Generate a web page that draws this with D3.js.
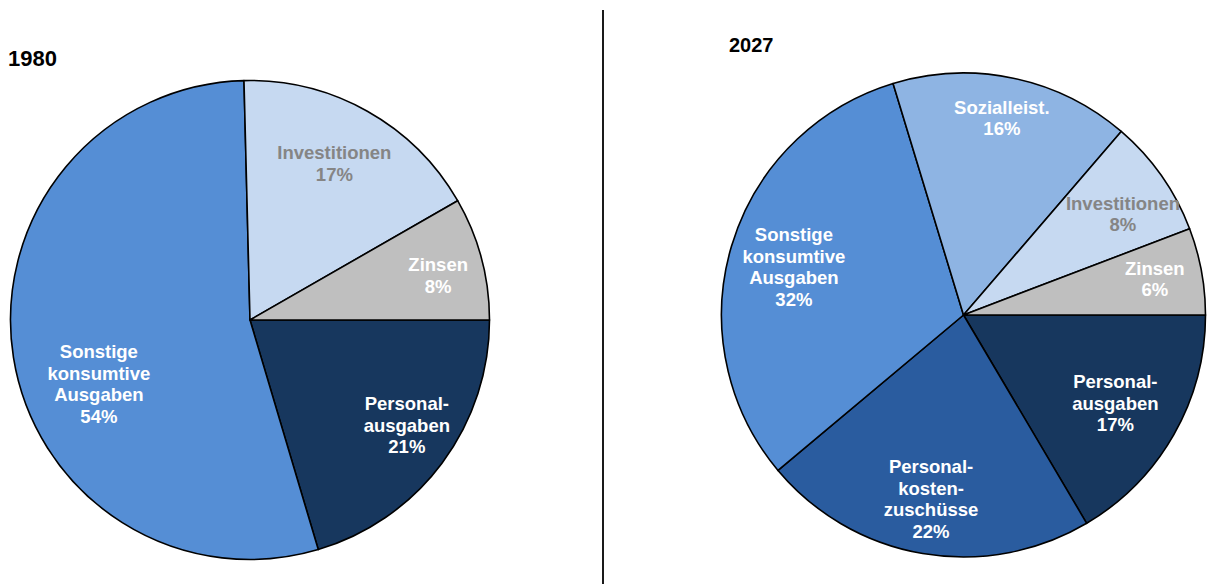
<!DOCTYPE html>
<html>
<head>
<meta charset="utf-8">
<script src="https://cdn.jsdelivr.net/npm/d3@7"></script>
<style>
  html, body { margin: 0; padding: 0; background: #fff; }
  svg { display: block; }
  text { font-family: "Liberation Sans", Arial, sans-serif; font-weight: bold; }
</style>
</head>
<body>
<svg id="chart" width="1207" height="584"></svg>
<script>
// ---- Data: 1980 ----
const cats1980 = ["Personalausgaben", "Sonstige konsumtive Ausgaben", "Investitionen", "Zinsen"];
const vals1980 = [20.4, 54.2, 17.1, 8.3];
const lines1980 = [["Personal-", "ausgaben"], ["Sonstige", "konsumtive", "Ausgaben"], ["Investitionen"], ["Zinsen"]];
const pct1980 = ["21%", "54%", "17%", "8%"];

// ---- Data: 2027 ----
const cats2027 = ["Personalausgaben", "Personalkostenzuschüsse", "Sonstige konsumtive Ausgaben", "Sozialleistungen", "Investitionen", "Zinsen"];
const vals2027 = [16.5, 22.4, 31.4, 16.0, 7.9, 5.8];
const lines2027 = [["Personal-", "ausgaben"], ["Personal-", "kosten-", "zuschüsse"], ["Sonstige", "konsumtive", "Ausgaben"], ["Sozialleist."], ["Investitionen"], ["Zinsen"]];
const pct2027 = ["17%", "22%", "32%", "16%", "8%", "6%"];

// ---- Styles ----
const colorMap = {
  "Personalausgaben": "#17375E",
  "Sonstige konsumtive Ausgaben": "#558ED5",
  "Investitionen": "#C6D9F1",
  "Zinsen": "#BFBFBF",
  "Sozialleistungen": "#8EB4E3",
  "Personalkostenzuschüsse": "#2A5C9F"
};
const labelColor = { "Investitionen": "#858585" };

const svg = d3.select("#chart");

function drawPie(cfg) {
  const data = cfg.cats.map((c, i) => ({ cat: c, value: cfg.vals[i], lines: cfg.lines[i].concat([cfg.pct[i]]) }));
  const pie = d3.pie().sort(null).value(d => d.value)
    .startAngle(Math.PI / 2).endAngle(Math.PI / 2 + 2 * Math.PI);
  const arcs = pie(data);
  const arc = d3.arc().innerRadius(0).outerRadius(cfg.r);
  const labelArc = d3.arc().innerRadius(cfg.r * 0.77).outerRadius(cfg.r * 0.77);
  const g = svg.append("g").attr("transform", `translate(${cfg.cx},${cfg.cy})`);

  g.selectAll("path.slice").data(arcs).join("path")
    .attr("class", "slice")
    .attr("d", arc)
    .attr("fill", d => colorMap[d.data.cat])
    .attr("stroke", "#000")
    .attr("stroke-width", 1.6)
    .attr("stroke-linejoin", "round");

  const fs = 18.5, lh = 21.5;
  const lbl = g.selectAll("g.lbl").data(arcs).join("g").attr("class", "lbl")
    .attr("transform", d => {
      const c = labelArc.centroid(d);
      const adj = cfg.adjust[d.data.cat] || [0, 0];
      return `translate(${c[0] + adj[0]},${c[1] + adj[1]})`;
    });
  lbl.each(function (d) {
    const n = d.data.lines.length;
    d3.select(this).selectAll("text").data(d.data.lines).join("text")
      .attr("text-anchor", "middle")
      .attr("x", 0)
      .attr("y", (t, i) => (i - (n - 1) / 2) * lh + fs * 0.358)
      .attr("font-size", fs + "px")
      .attr("fill", labelColor[d.data.cat] || "#fff")
      .text(t => t);
  });
}

drawPie({
  cats: cats1980, vals: vals1980, lines: lines1980, pct: pct1980,
  cx: 250, cy: 320, r: 239.5,
  adjust: {
    "Personalausgaben": [9, -5],
    "Sonstige konsumtive Ausgaben": [31, 35],
    "Investitionen": [-6, 4],
    "Zinsen": [10, 3]
  }
});

drawPie({
  cats: cats2027, vals: vals2027, lines: lines2027, pct: pct2027,
  cx: 963.5, cy: 315, r: 242,
  adjust: {
    "Personalausgaben": [-10, -4],
    "Personalkostenzuschüsse": [-1, 0],
    "Sonstige konsumtive Ausgaben": [9, 5],
    "Sozialleistungen": [0, -15],
    "Investitionen": [7, 6],
    "Zinsen": [8, -2.5]
  }
});

// Titles
svg.append("text").attr("x", 8).attr("y", 66).attr("font-size", "22px").attr("fill", "#000").text("1980");
svg.append("text").attr("x", 729).attr("y", 52).attr("font-size", "20px").attr("fill", "#000").text("2027");

// Divider
svg.append("line").attr("x1", 603).attr("x2", 603).attr("y1", 10).attr("y2", 584)
  .attr("stroke", "#1a1a1a").attr("stroke-width", 2);
</script>
</body>
</html>
